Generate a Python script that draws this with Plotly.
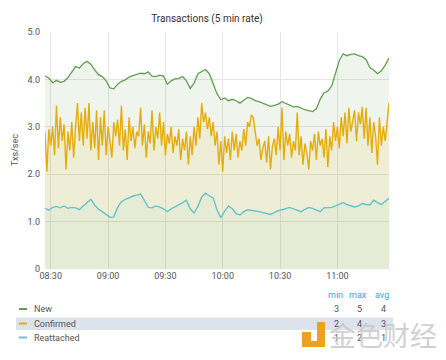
import plotly.graph_objects as go
import pandas as pd

# ---- data ----
series_names = ["New", "Confirmed", "Reattached"]
series_colors = ["#629e51", "#e5ac0e", "#64c3cf"]

start_time = "2018-01-01 08:27"

# 2-minute samples
new_vals = [4.07, 4.03, 3.93, 3.98, 3.94, 3.96, 4.04, 4.15, 4.27, 4.24,
            4.33, 4.38, 4.32, 4.20, 4.10, 4.06, 3.97, 3.82, 3.80, 3.90,
            3.96, 3.99, 4.05, 4.08, 4.11, 4.13, 4.12, 4.16, 4.07, 4.06,
            4.09, 4.07, 3.90, 3.97, 4.01, 4.02, 4.06, 3.97, 3.81, 3.92,
            4.12, 4.16, 4.21, 4.12, 3.92, 3.70, 3.57, 3.61, 3.55, 3.58,
            3.55, 3.50, 3.56, 3.62, 3.60, 3.55, 3.53, 3.50, 3.46, 3.43,
            3.45, 3.48, 3.53, 3.49, 3.45, 3.42, 3.43, 3.39, 3.36, 3.34,
            3.32, 3.38, 3.58, 3.72, 3.75, 3.86, 4.12, 4.40, 4.54, 4.50,
            4.53, 4.54, 4.50, 4.48, 4.42, 4.25, 4.20, 4.12, 4.18, 4.30,
            4.45]

reattached_vals = [1.28, 1.24, 1.30, 1.32, 1.29, 1.33, 1.28, 1.30, 1.29, 1.25,
                   1.33, 1.40, 1.47, 1.35, 1.26, 1.21, 1.15, 1.09, 1.10, 1.30,
                   1.42, 1.47, 1.50, 1.54, 1.56, 1.58, 1.45, 1.30, 1.29, 1.33,
                   1.31, 1.27, 1.21, 1.27, 1.31, 1.35, 1.40, 1.45, 1.27, 1.18,
                   1.32, 1.52, 1.60, 1.54, 1.50, 1.25, 1.08, 1.22, 1.33, 1.27,
                   1.17, 1.14, 1.21, 1.25, 1.24, 1.23, 1.21, 1.19, 1.17, 1.15,
                   1.19, 1.23, 1.25, 1.28, 1.30, 1.27, 1.24, 1.21, 1.26, 1.30,
                   1.28, 1.25, 1.21, 1.29, 1.30, 1.30, 1.33, 1.37, 1.40, 1.36,
                   1.34, 1.31, 1.33, 1.38, 1.36, 1.35, 1.45, 1.40, 1.36, 1.43,
                   1.49]

# 1-minute samples
confirmed_vals = [2.9, 2.05, 2.95, 2.6, 3.0, 2.4, 3.45, 2.55, 3.2, 2.7,
                  3.05, 2.1, 2.9, 2.5, 3.1, 2.35, 3.0, 3.5, 2.7, 3.3,
                  2.6, 3.4, 2.75, 3.5, 2.5, 3.1, 2.55, 3.35, 2.3, 3.2,
                  2.6, 3.35, 2.4, 3.0, 2.7, 2.35, 3.1, 2.8, 3.15, 2.6,
                  3.45, 2.5, 2.95, 2.3, 3.2, 2.7, 3.0, 2.55, 2.9, 2.8,
                  3.4, 2.6, 3.05, 2.35, 2.9, 2.65, 3.35, 2.5, 3.0, 2.75,
                  3.3, 2.6, 3.1, 2.4, 2.85, 2.65, 3.0, 2.45, 2.8, 2.6,
                  2.95, 2.3, 2.75, 2.5, 2.9, 2.2, 2.8, 2.4, 3.0, 2.6,
                  3.2, 2.75, 3.5, 3.1, 3.3, 2.95, 3.2, 2.8, 3.1, 2.6,
                  2.9, 2.2, 2.7, 2.05, 2.8, 2.45, 2.75, 2.3, 2.9, 2.5,
                  2.85, 2.35, 2.7, 2.5, 2.95, 2.6, 3.1, 3.0, 3.25, 3.2,
                  2.9, 2.6, 2.75, 2.3, 2.55, 2.7, 2.25, 2.8, 2.1, 2.6,
                  2.75, 2.4, 3.0, 2.5, 3.4, 2.3, 2.9, 2.6, 2.85, 2.35,
                  2.7, 2.5, 3.3, 2.4, 2.8, 2.2, 2.65, 2.45, 2.1, 2.7,
                  2.5, 2.85, 2.3, 2.9, 2.6, 2.75, 2.35, 2.95, 2.15, 2.8,
                  2.5, 3.1, 2.7, 3.0, 2.55, 3.2, 2.8, 3.3, 2.65, 3.4,
                  2.9, 3.15, 3.35, 2.7, 3.3, 3.05, 3.42, 2.75, 3.4, 2.6,
                  3.2, 2.45, 3.1, 2.8, 2.2, 3.2, 2.6, 3.0, 2.7, 3.1,
                  3.5]

y_tick_vals = [0, 1, 2, 3, 4, 5]
y_tick_text = ["0", "1.0", "2.0", "3.0", "4.0", "5.0"]
x_tick_text = ["08:30", "09:00", "09:30", "10:00", "10:30", "11:00"]

t2 = pd.date_range(start_time, periods=len(new_vals), freq="2min")
t1 = pd.date_range(start_time, periods=len(confirmed_vals), freq="1min")

series_x = [t2, t1, t2]
series_y = [new_vals, confirmed_vals, reattached_vals]
fill_colors = ["rgba(98,158,81,0.10)", "rgba(229,172,14,0.10)", "rgba(100,195,207,0.06)"]
line_widths = [1.3, 1.4, 1.4]

# page has an 8px body margin: work in page pixels and subtract it
OFF = 8
PAGE_W, PAGE_H = 446, 360
W, H = PAGE_W - OFF, PAGE_H - OFF
L, R, T, B = 45, 389, 32, 269  # plot area in page pixels


def px(x):
    return (x - L) / (R - L)


def py(y):
    return (B - y) / (B - T)


fig = go.Figure()
for name, xs, ys, c, fc, lw in zip(series_names, series_x, series_y, series_colors, fill_colors, line_widths):
    fig.add_trace(go.Scatter(x=xs, y=ys, name=name, mode="lines",
                             line=dict(color=c, width=lw), fill="tozeroy",
                             fillcolor=fc, showlegend=False))

tick_dates = ["2018-01-01 " + s for s in x_tick_text]

fig.update_layout(
    width=W, height=H,
    margin=dict(l=L - OFF, r=PAGE_W - R, t=T - OFF, b=PAGE_H - B),
    paper_bgcolor="white", plot_bgcolor="white",
    font=dict(family="Roboto, Noto Sans, sans-serif", size=9, color="#555555"),
    title=dict(text="Transactions (5 min rate)", x=px(207), xref="paper", xanchor="center",
               y=1 - (18 - OFF) / H, yanchor="middle",
               font=dict(size=10, color="#333333")),
    xaxis=dict(range=[t1[0], t1[-1]], tickvals=tick_dates, ticktext=x_tick_text,
               showgrid=True, gridcolor="#e6e6e6", gridwidth=1, zeroline=False,
               showline=False, ticks="", tickfont=dict(size=9, color="#555555")),
    yaxis=dict(range=[0, 5], tickvals=y_tick_vals, ticktext=y_tick_text,
               showgrid=True, gridcolor="#e6e6e6", gridwidth=1, zeroline=False,
               showline=False, ticks="", ticklabelstandoff=4,
               tickfont=dict(size=9, color="#555555")),
)

annotations = []
shapes = []


def ann(text, x, y, xanchor="center", size=9, color="#555555", **kw):
    annotations.append(dict(text=text, x=px(x), y=py(y), xref="paper", yref="paper",
                            xanchor=xanchor, yanchor="middle", showarrow=False,
                            font=dict(size=size, color=color, **kw.pop("fontkw", {})), **kw))


# y-axis title
ann("Txs/sec", 15, 150, textangle=-90)

# legend table
shapes.append(dict(type="rect", xref="paper", yref="paper", x0=px(16), x1=px(393),
                   y0=py(330), y1=py(317.5), fillcolor="#dde3ec", line=dict(width=0), layer="below"))
for hx, ht in zip([335, 358, 382], ["min", "max", "avg"]):
    ann(ht, hx, 295, color="#33a8d8")
row_y = [309, 323.5, 337.5]
for name, ys, c, ry in zip(series_names, series_y, series_colors, row_y):
    shapes.append(dict(type="line", xref="paper", yref="paper", x0=px(19), x1=px(27),
                       y0=py(ry), y1=py(ry), line=dict(color=c, width=2)))
    ann(name, 32, ry, xanchor="left")
    stats = [round(min(ys)), round(max(ys)), round(sum(ys) / len(ys))]
    for sx, sv in zip([341, 364, 388], stats):
        ann(str(sv), sx, ry, xanchor="right")

# watermark
wm = "#f0a020"
for x0, x1, y0, y1 in [(302, 311, 341, 332), (317, 325, 347, 322), (302, 325, 347, 341)]:
    shapes.append(dict(type="rect", xref="paper", yref="paper", x0=px(x0), x1=px(x1),
                       y0=py(y0), y1=py(y1), fillcolor=wm, line=dict(width=0)))
ann("金色财经", 383, 334, size=27, color="rgba(200,200,200,0.85)",
    fontkw=dict(family="Noto Sans CJK SC"))

fig.update_layout(annotations=annotations, shapes=shapes)
fig.write_html("out.html")
